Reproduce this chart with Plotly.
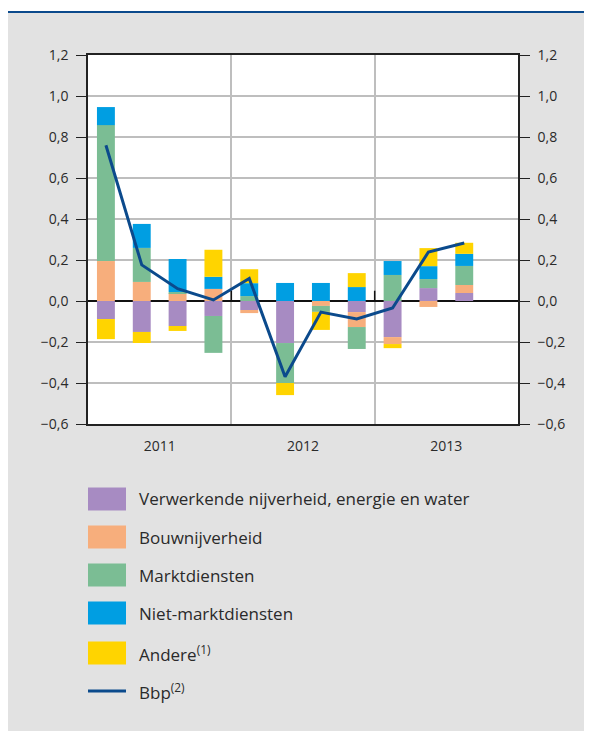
import plotly.graph_objects as go

# ---------------- data ----------------
quarters = ["2011 K1", "2011 K2", "2011 K3", "2011 K4",
            "2012 K1", "2012 K2", "2012 K3", "2012 K4",
            "2013 K1", "2013 K2", "2013 K3"]
years = ["2011", "2012", "2013"]

verwerkende = [-0.088, -0.151, -0.122, -0.073, -0.044, -0.205, 0.0, -0.054, -0.176, 0.063, 0.039]
bouw = [0.195, 0.093, 0.039, 0.059, -0.015, 0.0, -0.024, -0.073, -0.034, -0.029, 0.039]
markt = [0.663, 0.166, 0.005, -0.180, 0.024, -0.195, -0.029, -0.107, 0.127, 0.044, 0.093]
nietmarkt = [0.088, 0.117, 0.161, 0.059, 0.063, 0.088, 0.088, 0.068, 0.068, 0.063, 0.059]
andere = [-0.098, -0.054, -0.024, 0.132, 0.068, -0.059, -0.088, 0.068, -0.020, 0.088, 0.054]
bbp = [0.76, 0.176, 0.06, 0.005, 0.11, -0.37, -0.054, -0.088, -0.034, 0.239, 0.283]

series_names = ["Verwerkende nijverheid, energie en water", "Bouwnijverheid",
                "Marktdiensten", "Niet-marktdiensten", "Andere<sup>(1)</sup>"]
line_name = "Bbp<sup>(2)</sup>"

y_tickvals = [-0.6, -0.4, -0.2, 0.0, 0.2, 0.4, 0.6, 0.8, 1.0, 1.2]
y_ticktext = ["−0,6", "−0,4", "−0,2", "0,0", "0,2", "0,4", "0,6", "0,8", "1,0", "1,2"]

# ---------------- styles ----------------
colors = ["#A78BC2", "#F7AE7C", "#7BBD94", "#009EE2", "#FFD400"]
line_color = "#0B4A8C"
grid_color = "#BEBEBE"
text_color = "#2A2A2A"
bg_grey = "#E2E2E2"
FONT = "Open Sans"

OFF = 8  # page body margin
W, H = 592 - OFF, 731 - OFF
# page-pixel plot box: x 88..518, y 55..424
ML = 88 - OFF
MT = 55 - OFF
MR = W - (518 - OFF)
MB = H - (424 - OFF)
PW, PH = W - ML - MR, H - MT - MB


def px_x(px):  # page pixel -> paper fraction
    return (px - OFF - ML) / PW


def px_y(py):
    return (H - MB - (py - OFF)) / PH


x = list(range(len(quarters)))
series = [verwerkende, bouw, markt, nietmarkt, andere]

fig = go.Figure()
for name, vals, col in zip(series_names, series, colors):
    fig.add_trace(go.Bar(x=x, y=vals, name=name, marker=dict(color=col, line=dict(width=0)),
                         width=0.5, showlegend=False, hovertext=quarters))
fig.add_trace(go.Scatter(x=x, y=bbp, name=line_name, mode="lines",
                         line=dict(color=line_color, width=3), showlegend=False,
                         hovertext=quarters))
# invisible trace to activate right axis
fig.add_trace(go.Scatter(x=[x[0]], y=[bbp[0]], yaxis="y2", mode="markers",
                         marker=dict(opacity=0), showlegend=False, hoverinfo="skip"))

n_per_year = 4
year_pos = [n_per_year * i + (n_per_year - 1) / 2 for i in range(len(years))]
year_bounds = [n_per_year * i - 0.5 for i in range(1, len(years))]

yr = [-0.6, 1.2]
fig.update_layout(
    width=W, height=H,
    margin=dict(l=ML, r=MR, t=MT, b=MB),
    paper_bgcolor=bg_grey, plot_bgcolor="white",
    barmode="relative", bargap=0.5,
    font=dict(family=FONT, size=14, color=text_color),
    xaxis=dict(range=[-0.5, 11.5], tickvals=year_pos, ticktext=years, ticks="",
               showgrid=False, zeroline=False, showline=True, mirror=True,
               linecolor="#222222", linewidth=1.5, ticklabelstandoff=8,
               tickfont=dict(size=14, color=text_color),
               minor=dict(tickvals=year_bounds, showgrid=True, gridcolor=grid_color,
                          gridwidth=1.5, ticks="")),
    yaxis=dict(range=yr, tickvals=y_tickvals, ticktext=y_ticktext, ticks="outside",
               ticklen=10, tickcolor="#222222", tickwidth=1.2, showgrid=True,
               gridcolor=grid_color, gridwidth=1.5, zeroline=True, zerolinecolor="#111111",
               zerolinewidth=1.5, showline=True, mirror=True, linecolor="#222222",
               linewidth=1.5, ticklabelstandoff=5, tickfont=dict(size=14, color=text_color)),
    yaxis2=dict(range=yr, tickvals=y_tickvals, ticktext=y_ticktext, ticks="outside",
                ticklen=10, tickcolor="#222222", tickwidth=1.2, overlaying="y", side="right",
                showgrid=False, zeroline=False, showline=True, linecolor="#222222",
                linewidth=1.5, ticklabelstandoff=5, tickfont=dict(size=14, color=text_color)),
)

shapes = []
# white top strip and blue top rule (page y 12)
shapes.append(dict(type="rect", xref="paper", yref="paper", x0=px_x(0), x1=px_x(600),
                   y0=px_y(12), y1=px_y(0), fillcolor="white", line=dict(width=0), layer="above"))
shapes.append(dict(type="line", xref="paper", yref="paper", x0=px_x(0), x1=px_x(600),
                   y0=px_y(12), y1=px_y(12), line=dict(color="#0B4A8C", width=2.2), layer="above"))
# small up-ticks on the zero line at year boundaries
for b in year_bounds:
    shapes.append(dict(type="line", xref="x", yref="y", x0=b, x1=b, y0=0, y1=0.05,
                       line=dict(color="#111111", width=1.5), layer="above"))

# custom legend
row_y = [499, 537, 575, 613, 653, 691]
annotations = []
for i, (name, col) in enumerate(zip(series_names, colors)):
    cy = row_y[i]
    shapes.append(dict(type="rect", xref="paper", yref="paper", x0=px_x(88), x1=px_x(126),
                       y0=px_y(cy + 11.5), y1=px_y(cy - 11.5), fillcolor=col,
                       line=dict(width=0)))
    annotations.append(dict(xref="paper", yref="paper", x=px_x(137), y=px_y(cy), text=name,
                            showarrow=False, xanchor="left", yanchor="middle",
                            font=dict(size=17, color=text_color, family=FONT)))
cy = row_y[-1]
shapes.append(dict(type="line", xref="paper", yref="paper", x0=px_x(88), x1=px_x(126),
                   y0=px_y(cy), y1=px_y(cy), line=dict(color=line_color, width=3)))
annotations.append(dict(xref="paper", yref="paper", x=px_x(137), y=px_y(cy), text=line_name,
                        showarrow=False, xanchor="left", yanchor="middle",
                        font=dict(size=17, color=text_color, family=FONT)))

fig.update_layout(shapes=shapes, annotations=annotations)
fig.write_html("out.html")
